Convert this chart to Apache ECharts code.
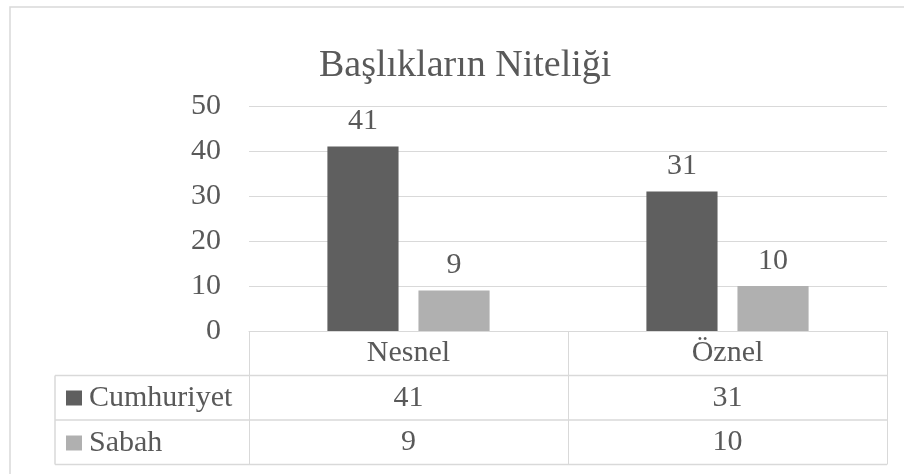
<!DOCTYPE html>
<html>
<head>
<meta charset="utf-8">
<script src="https://cdn.jsdelivr.net/npm/echarts@6/dist/echarts.min.js"></script>
<style>
  html, body { margin: 0; padding: 0; background: #fff; }
  #chart { width: 904px; height: 474px; }
</style>
</head>
<body>
<div id="chart"></div>
<script>
const categories = ['Nesnel', 'Öznel'];
const seriesNames = ['Cumhuriyet', 'Sabah'];
const cumhuriyet = [41, 31];
const sabah = [9, 10];
const yTicks = [0, 10, 20, 30, 40, 50];

const FONT = "'Liberation Serif', 'Times New Roman', serif";
const TEXT = '#595959';
const LINE = '#d9d9d9';
const colors = ['#5f5f5f', '#b0b0b0'];

// plot area and data table geometry
const grid = {left: 249, right: 17, top: 106, bottom: 143};
const rowH = 44.5;
const tableLeft = 55;

const chart = echarts.init(document.getElementById('chart'));

const valueAxis = (data, offset) => ({
    type: 'category',
    data: data.map(String),
    position: 'bottom',
    offset: offset,
    axisLine: {show: false},
    axisTick: {show: false},
    axisLabel: {
        margin: rowH / 2,
        verticalAlign: 'middle',
        color: TEXT, fontFamily: FONT, fontSize: 30
    }
});

const option = {
    animation: false,
    backgroundColor: '#fff',
    title: {
        text: 'Başlıkların Niteliği',
        left: 319,
        top: 47,
        padding: 0,
        textStyle: {color: TEXT, fontFamily: FONT, fontSize: 38, fontWeight: 'normal'}
    },
    legend: {
        orient: 'vertical',
        left: 66,
        top: 383,
        padding: 0,
        itemGap: 15,
        itemWidth: 16,
        itemHeight: 15,
        icon: 'rect',
        data: seriesNames,
        textStyle: {color: TEXT, fontFamily: FONT, fontSize: 30, lineHeight: 30, padding: [0, 0, 0, 2]}
    },
    grid: grid,
    xAxis: [{
        type: 'category',
        data: categories,
        axisLine: {show: true, lineStyle: {color: LINE, width: 1}},
        axisTick: {show: true, interval: 0, length: rowH * 3, lineStyle: {color: LINE}},
        axisLabel: {
            margin: rowH / 2,
            verticalAlign: 'middle',
            color: TEXT, fontFamily: FONT, fontSize: 30
        }
    },
        valueAxis(cumhuriyet, rowH),
        valueAxis(sabah, rowH * 2)
    ],
    yAxis: {
        type: 'value',
        min: yTicks[0],
        max: yTicks[yTicks.length - 1],
        interval: 10,
        axisLine: {show: false},
        axisTick: {show: false},
        splitLine: {lineStyle: {color: LINE, width: 1}},
        axisLabel: {margin: 28, color: TEXT, fontFamily: FONT, fontSize: 30}
    },
    series: [
        {name: seriesNames[0], type: 'bar', data: cumhuriyet},
        {name: seriesNames[1], type: 'bar', data: sabah}
    ].map((s, i) => Object.assign(s, {
        barWidth: '22.3%',
        barGap: '28%',
        itemStyle: {color: colors[i]},
        label: {
            show: true, position: 'top', distance: 10,
            color: TEXT, fontFamily: FONT, fontSize: 30
        }
    }))
};

chart.setOption(option);

// table lines under the plot
const W = 904, H = 474;
const x1 = W - grid.right;
const y0 = H - grid.bottom;
const hline = (xa, y) => ({
    type: 'line', silent: true,
    shape: {x1: xa, y1: y, x2: x1, y2: y},
    style: {stroke: LINE, lineWidth: 1.5}
});
chart.setOption({
    graphic: [
        {type: 'rect', silent: true, shape: {x: 10, y: 7, width: 1000, height: 1000},
            style: {fill: null, stroke: LINE, lineWidth: 1.5}},
        hline(tableLeft, y0 + rowH),
        hline(tableLeft, y0 + rowH * 2),
        hline(tableLeft, y0 + rowH * 3),
        {type: 'line', silent: true,
            shape: {x1: tableLeft, y1: y0 + rowH, x2: tableLeft, y2: y0 + rowH * 3},
            style: {stroke: LINE, lineWidth: 1.5}}
    ]
});
</script>
</body>
</html>
